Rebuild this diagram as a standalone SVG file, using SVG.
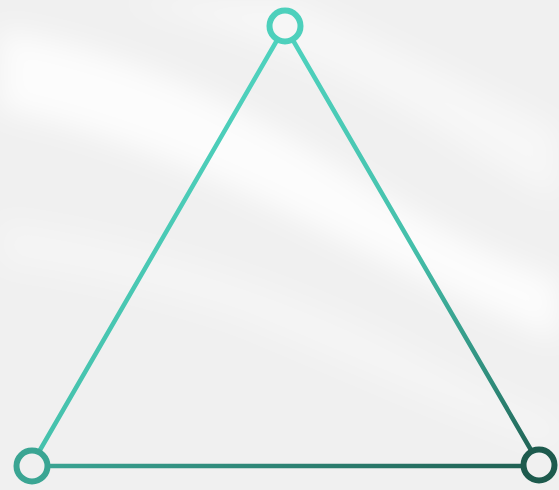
<svg xmlns="http://www.w3.org/2000/svg" width="559" height="490" viewBox="0 0 559 490">
  <defs>
    <linearGradient id="g" gradientUnits="userSpaceOnUse" x1="280" y1="20" x2="548" y2="470">
      <stop offset="0" stop-color="#4fd3bf"/>
      <stop offset="0.5" stop-color="#45c0ab"/>
      <stop offset="0.8" stop-color="#2f8c7b"/>
      <stop offset="1" stop-color="#1c5649"/>
    </linearGradient>
    <linearGradient id="gb" gradientUnits="userSpaceOnUse" x1="30" y1="0" x2="545" y2="0">
      <stop offset="0" stop-color="#3aa695"/>
      <stop offset="1" stop-color="#1f5e51"/>
    </linearGradient>
    <filter id="blur" x="-20%" y="-20%" width="140%" height="140%">
      <feGaussianBlur stdDeviation="14"/>
    </filter>
    <style>
      .ring { fill: none; stroke-width: 6; }
      .edge { fill: none; stroke-width: 4.5; stroke-linecap: round; }
    </style>
  </defs>
  <rect width="559" height="490" fill="#f0f0f0"/>
  <g filter="url(#blur)" fill="#ffffff">
    <path d="M0,30 C130,50 250,110 360,180 C430,225 500,260 559,280 L559,340 C480,310 400,270 310,225 C200,170 100,130 0,110 Z" opacity="0.8"/>
    <path d="M120,0 C250,30 380,90 470,150 C510,175 540,190 559,200 L559,130 C480,90 380,40 290,0 Z" opacity="0.45"/>
    <path d="M0,220 C150,240 300,290 430,360 C490,390 530,410 559,420 L559,450 C470,420 360,370 240,320 C150,290 60,270 0,265 Z" opacity="0.3"/>
  </g>
  <g id="connectors">
    <line class="edge" x1="276" y1="42" x2="40" y2="450" stroke="url(#g)"/>
    <line class="edge" x1="294" y1="42" x2="531" y2="450" stroke="url(#g)"/>
    <line class="edge" x1="50" y1="466" x2="521" y2="466" stroke="url(#gb)"/>
  </g>
  <g id="node-top">
    <circle class="ring" cx="285" cy="26" r="15.5" stroke="#4dd0bc"/>
  </g>
  <g id="node-left">
    <circle class="ring" cx="32" cy="466" r="15.5" stroke="#3aa593"/>
  </g>
  <g id="node-right">
    <circle class="ring" cx="539" cy="465" r="15.5" stroke="#1d5a4d"/>
  </g>
</svg>
